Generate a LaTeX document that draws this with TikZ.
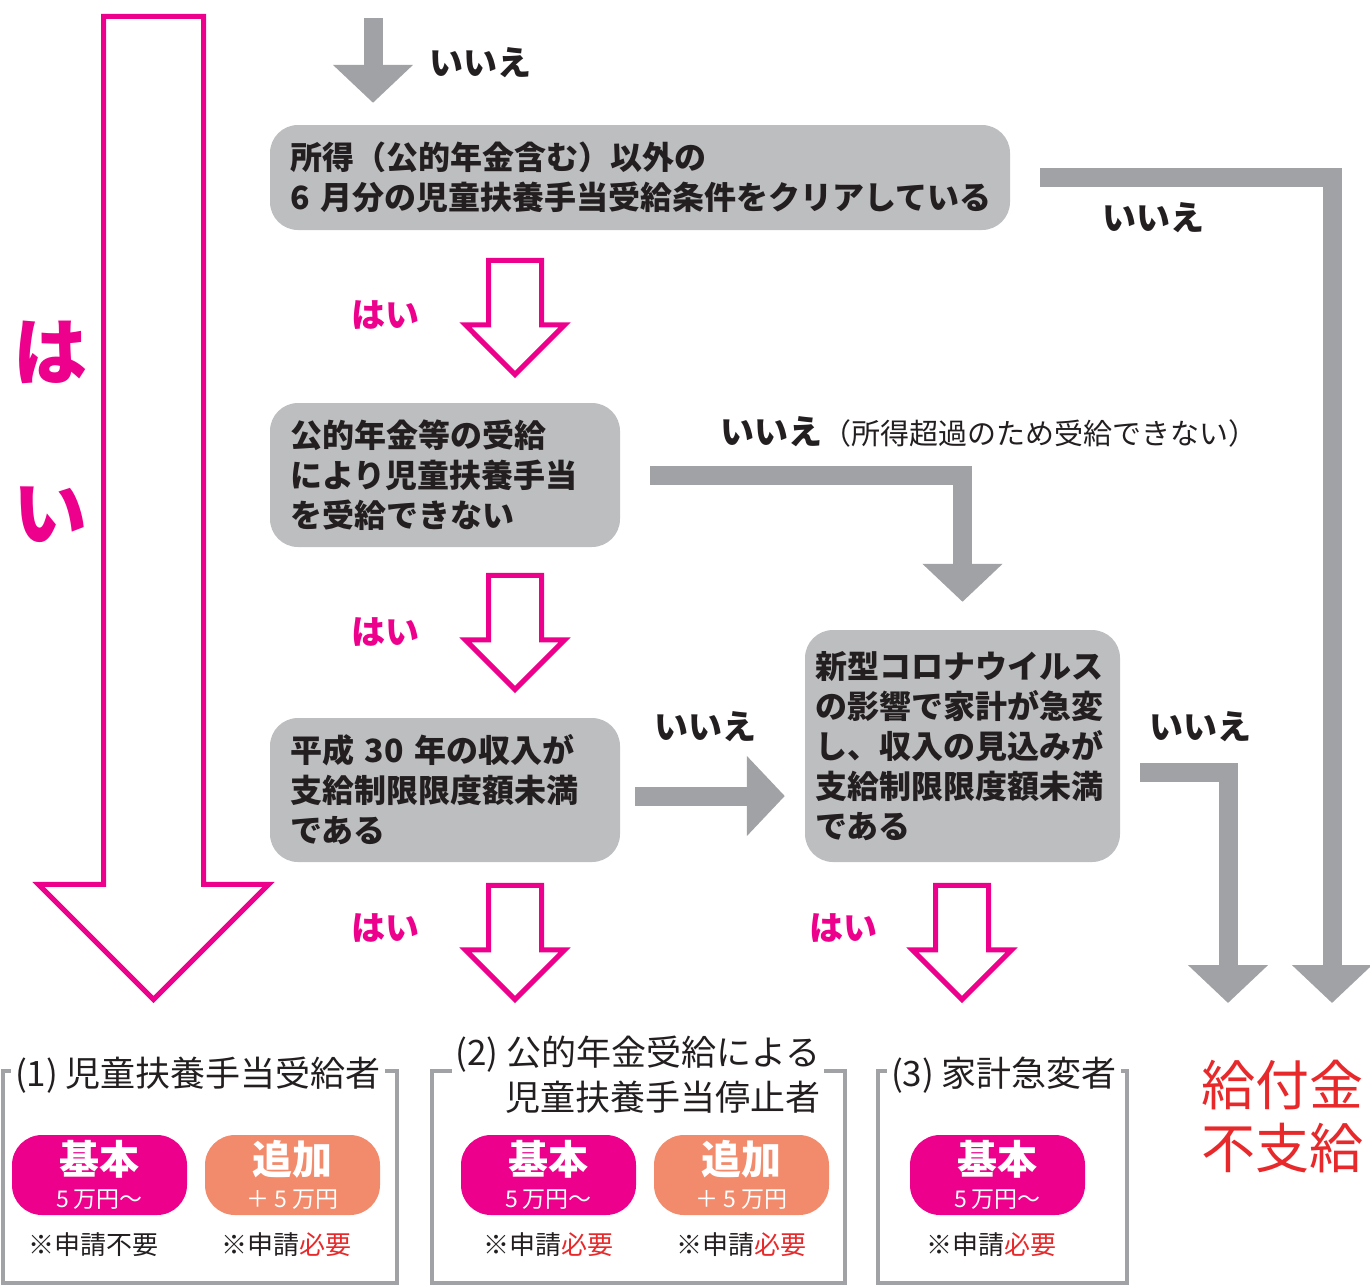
\documentclass[tikz,border=0pt]{standalone}
\usepackage{fontspec}
\setmainfont{Noto Sans CJK JP}
\usetikzlibrary{arrows.meta,shapes.arrows,positioning}
\definecolor{flowpink}{HTML}{EC008C}
\definecolor{flowsalmon}{HTML}{F28B6C}
\definecolor{boxgray}{HTML}{BDBEC0}
\definecolor{arrowgray}{HTML}{A1A2A5}
\definecolor{textdark}{HTML}{231F20}
\definecolor{notered}{HTML}{E8292B}

\begin{document}
\begin{tikzpicture}[x=1pt,y=-1pt,
    check/.style={fill=boxgray, rounded corners=28pt, text=textdark, align=left,
      font=\bfseries\fontsize{32}{40}\selectfont, inner xsep=20pt, inner ysep=0pt},
    nolabel/.style={text=textdark, font=\bfseries\fontsize{34}{36}\selectfont, inner sep=0pt},
    yeslabel/.style={text=flowpink, font=\bfseries\fontsize{34}{36}\selectfont, inner sep=0pt},
    noflow/.style={draw=arrowgray, line width=19pt, -{Triangle[width=78pt,length=38pt]}},
    yesflow/.style={single arrow, draw=flowpink, fill=white, line width=5pt,
      shape border rotate=270, inner sep=24pt, single arrow head extend=23pt,
      minimum width=95pt, minimum height=114pt, anchor=tip},
    resultframe/.style={draw=arrowgray, line width=4pt},
    heading/.style={fill=white, text=textdark, font=\fontsize{35}{45}\selectfont,
      inner xsep=4pt, inner ysep=0pt},
    pill/.style={rounded corners=30pt, minimum width=175pt, minimum height=80pt,
      text=white, align=center, inner sep=0pt, font=\fontsize{23}{33}\selectfont},
    note/.style={text=textdark, font=\fontsize{26}{30}\selectfont, inner sep=0pt}]

  \useasboundingbox (0,0) rectangle (1370,1286);

  % questions
  \node[check, text width=700pt, minimum height=105pt] (box1) at (640,177.5)
    {所得（公的年金含む）以外の\\6 月分の児童扶養手当受給条件をクリアしている};
  \node[check, text width=310pt, minimum height=144pt] (box2) at (445,475)
    {公的年金等の受給\\により児童扶養手当\\を受給できない};
  \node[check, text width=310pt, minimum height=144pt] (box3) at (445,790)
    {平成 30 年の収入が\\支給制限限度額未満\\である};
  \node[check, text width=295pt, inner xsep=10pt, minimum height=232pt] (box4) at (962.5,746)
    {新型コロナウイルス\\の影響で家計が急変\\し、収入の見込みが\\支給制限限度額未満\\である};

  \node[text=notered, font=\fontsize{54}{63}\selectfont, align=center] (nopay) at (1282,1117)
    {給付金\\不支給};

  % "no" connectors
  \coordinate (entry) at (373,18);
  \coordinate (stop1) at (1332,1003);
  \coordinate (stop2) at (1228,1003);
  \draw[noflow, shorten >=22pt] (entry) -- (entry |- box1.north);
  \draw[noflow, shorten <=30pt] (box1.east) -| (stop1);
  \draw[noflow, shorten <=30pt, shorten >=28pt] (box2.east) -| (box4.north);
  \draw[noflow, shorten <=15pt, shorten >=20pt] ([yshift=-6pt]box3.east) -- ([yshift=-6pt]box3.east -| box4.west);
  \draw[noflow, shorten <=20pt] ([yshift=-26pt]box4.east) -| (stop2);

  \node[nolabel] (no0) at (480,63) {いいえ};
  \node[nolabel] (no1) at (1153,218) {いいえ};
  \node[nolabel, anchor=west] (no2) at (720,432)
    {いいえ{\mdseries\fontsize{29}{30}\selectfont（所得超過のため受給できない）}};
  \node[nolabel] (no3) at (705,727) {いいえ};
  \node[nolabel] (no4) at (1200,727) {いいえ};

  % "yes" arrows
  \node[yesflow, inner sep=47.5pt, minimum width=226pt, minimum height=983pt,
    single arrow head extend=65pt] (allyes) at (153.5,1003) {};
  \node[yesflow] (yes1) at (515,378) {};
  \node[yesflow] (yes2) at (515,693) {};
  \node[yesflow] (yes3) at (515,1003) {};
  \node[yesflow] (yes4) at (962,1003) {};

  \node[yeslabel, font=\bfseries\fontsize{74}{80}\selectfont] (yesa) at (50,352) {は};
  \node[yeslabel, font=\bfseries\fontsize{74}{80}\selectfont] (yesb) at (50,515) {い};
  \node[yeslabel] (yl1) at (385,315) {はい};
  \node[yeslabel] (yl2) at (385,632) {はい};
  \node[yeslabel] (yl3) at (385,928) {はい};
  \node[yeslabel] (yl4) at (843,928) {はい};

  % results
  \draw[resultframe] (3,1071) rectangle (397,1283);
  \draw[resultframe] (432,1071) rectangle (845,1283);
  \draw[resultframe] (878,1071) rectangle (1127,1283);
  \node[heading] (head1) at (198,1075) {(1) 児童扶養手当受給者};
  \node[heading, align=right] (head2) at (638,1075) {(2) 公的年金受給による\\児童扶養手当停止者};
  \node[heading] (head3) at (1004,1075) {(3) 家計急変者};

  \node[pill, fill=flowpink] (base1) at (99.5,1175)
    {{\bfseries\fontsize{40}{44}\selectfont 基本}\\5 万円～};
  \node[pill, fill=flowsalmon] (plus1) at (292.5,1175)
    {{\bfseries\fontsize{40}{44}\selectfont 追加}\\＋ 5 万円};
  \node[pill, fill=flowpink] (base2) at (548.5,1175)
    {{\bfseries\fontsize{40}{44}\selectfont 基本}\\5 万円～};
  \node[pill, fill=flowsalmon] (plus2) at (741.5,1175)
    {{\bfseries\fontsize{40}{44}\selectfont 追加}\\＋ 5 万円};
  \node[pill, fill=flowpink] (base3) at (997.5,1175)
    {{\bfseries\fontsize{40}{44}\selectfont 基本}\\5 万円～};

  \node[note, below=17pt of base1, xshift=-6pt] (note1) {※申請不要};
  \node[note, below=17pt of plus1, xshift=-6pt] (note2) {※申請{\color{notered}必要}};
  \node[note, below=17pt of base2] (note3) {※申請{\color{notered}必要}};
  \node[note, below=17pt of plus2] (note4) {※申請{\color{notered}必要}};
  \node[note, below=17pt of base3, xshift=-6pt] (note5) {※申請{\color{notered}必要}};

\end{tikzpicture}
\end{document}
